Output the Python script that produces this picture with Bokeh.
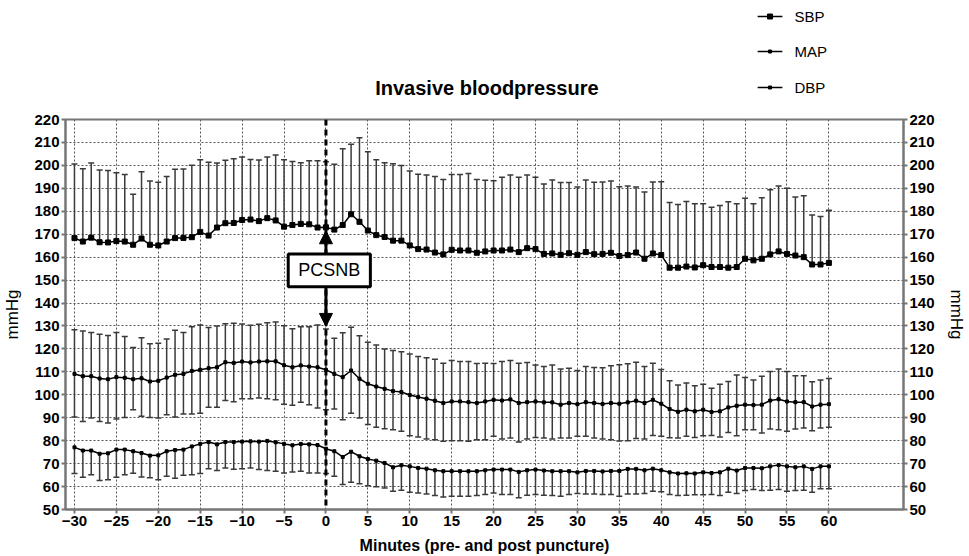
from bokeh.plotting import figure
from bokeh.layouts import column
from bokeh.models import (Range1d, LinearAxis, FixedTicker, Label,
                          BoxAnnotation, Arrow, NormalHead, Span)
from bokeh.core.properties import value
from bokeh.embed import file_html
from bokeh.resources import INLINE

minutes = list(range(-30, 61))

# SBP mean and mean+SD
sbp_mean = [168.3, 166.8, 168.5, 166.5, 166.4, 167.0, 166.8, 165.4, 168.1, 165.4,
            165.1, 166.8, 168.3, 168.4, 168.7, 171.0, 169.4, 172.9, 174.8, 174.9,
            176.2, 176.4, 175.7, 177.0, 176.0, 173.3, 174.0, 174.5, 174.3, 172.9,
            173.0,
            172.0, 174.0, 178.7, 175.4, 171.6, 169.6, 168.8, 167.2, 167.2, 165.1,
            163.5, 163.3, 162.0, 161.2, 163.2, 162.9, 162.9, 161.9, 162.5, 162.9,
            162.9, 163.3, 162.2, 163.9, 163.5, 161.4, 161.6, 161.0, 161.7, 161.0,
            162.2, 161.3, 161.4, 161.9, 160.5, 160.9, 162.0, 159.3, 161.6, 160.9,
            155.4, 155.4, 155.9, 155.5, 156.5, 155.7, 155.7, 155.4, 155.7, 159.3,
            158.6, 159.3, 161.2, 162.5, 161.4, 160.7, 160.0, 156.8, 156.8, 157.5]
sbp_upper = [200.6, 198.5, 201.0, 198.0, 197.8, 196.8, 196.0, 187.4, 197.2, 193.2,
             192.6, 195.2, 198.3, 198.4, 200.1, 202.5, 201.4, 201.0, 202.2, 202.9,
             203.6, 202.6, 202.3, 203.6, 204.5, 202.5, 201.7, 201.2, 202.0, 202.0,
             201.6,
             200.5, 207.3, 209.2, 212.0, 205.9, 202.5, 201.2, 200.7, 199.9, 197.5,
             196.1, 195.8, 195.1, 193.9, 196.0, 196.0, 196.5, 193.9, 193.5, 193.3,
             194.8, 195.8, 194.8, 195.8, 194.8, 191.9, 193.6, 192.5, 192.5, 190.6,
             193.6, 192.6, 192.8, 193.2, 190.7, 191.0, 190.6, 188.4, 192.8, 192.9,
             183.8, 183.0, 184.3, 183.3, 183.3, 181.7, 182.5, 184.1, 183.3, 185.7,
             183.3, 185.9, 189.4, 191.0, 190.0, 186.2, 186.8, 178.4, 177.7, 180.4]

# MAP mean, mean+SD, mean-SD
map_mean = [109.1, 108.1, 108.1, 107.1, 106.8, 107.7, 107.4, 106.8, 107.2, 105.8,
            106.1, 107.5, 108.7, 109.1, 110.4, 110.9, 111.6, 112.0, 114.2, 113.9,
            114.5, 114.1, 114.5, 114.6, 114.6, 112.9, 112.0, 112.8, 112.3, 112.0,
            110.9,
            109.1, 107.7, 110.6, 107.0, 104.8, 103.6, 102.6, 101.6, 101.2, 99.9,
            99.0, 98.3, 97.4, 96.4, 97.1, 97.1, 96.8, 96.4, 97.1, 97.8,
            97.5, 98.0, 96.4, 96.8, 97.1, 96.7, 96.7, 95.7, 96.4, 95.9,
            96.8, 96.4, 96.0, 96.4, 96.1, 96.7, 97.4, 96.4, 97.8, 96.1,
            93.8, 92.6, 93.5, 92.8, 93.5, 92.5, 92.8, 94.5, 95.2, 95.7,
            95.5, 95.7, 97.5, 98.1, 97.1, 96.8, 96.8, 94.9, 95.7, 95.9]
map_upper = [128.4, 127.8, 127.1, 126.4, 125.9, 127.1, 125.4, 120.6, 124.9, 122.2,
             122.5, 124.3, 128.1, 127.2, 129.7, 130.4, 129.3, 130.0, 131.0, 131.2,
             130.9, 130.3, 130.7, 131.4, 131.7, 130.1, 128.8, 129.7, 129.7, 130.4,
             128.7,
             124.6, 127.0, 129.4, 125.7, 122.9, 121.7, 120.0, 119.3, 118.8, 117.8,
             116.7, 116.2, 115.5, 113.8, 114.9, 114.5, 114.5, 113.6, 113.8, 113.6,
             114.5, 114.9, 113.8, 114.1, 113.0, 112.3, 113.0, 111.2, 111.6, 110.6,
             112.3, 111.9, 111.8, 112.7, 113.1, 113.5, 114.2, 112.3, 113.8, 111.0,
             106.1, 104.3, 105.1, 103.9, 104.6, 102.9, 104.6, 105.8, 108.6, 107.5,
             106.5, 108.1, 110.1, 111.2, 110.1, 108.3, 108.3, 105.7, 106.5, 107.1]
map_lower = [90.3, 88.4, 89.9, 88.4, 87.7, 89.4, 90.1, 93.5, 90.6, 90.1,
             89.9, 91.3, 90.3, 91.6, 91.6, 92.0, 94.6, 94.6, 97.5, 97.0,
             98.3, 98.3, 98.6, 98.3, 97.8, 95.9, 95.4, 96.8, 95.7, 94.2,
             93.5,
             93.8, 89.1, 92.0, 89.9, 87.0, 85.9, 85.2, 84.8, 84.1, 82.2,
             81.6, 80.7, 80.4, 79.7, 80.0, 80.0, 79.7, 80.4, 80.4, 81.9,
             80.7, 81.2, 79.4, 80.7, 81.4, 81.2, 80.7, 81.2, 81.2, 81.9,
             81.9, 81.2, 80.7, 80.4, 79.9, 80.0, 80.9, 80.7, 82.3, 81.9,
             81.3, 81.2, 81.9, 81.4, 82.2, 82.3, 81.6, 83.6, 82.2, 84.8,
             84.8, 83.3, 85.1, 84.8, 84.1, 85.1, 85.5, 84.3, 85.5, 85.9]

# DBP mean and mean-SD
dbp_mean = [77.1, 75.7, 75.7, 74.3, 74.5, 76.1, 76.1, 75.4, 74.6, 73.5,
            73.6, 75.4, 75.9, 76.1, 77.5, 78.6, 79.4, 78.4, 79.4, 79.4,
            79.6, 79.7, 79.6, 79.9, 79.3, 78.6, 78.0, 78.6, 78.4, 78.1,
            76.5,
            75.4, 72.9, 75.2, 73.2, 72.0, 71.3, 70.3, 68.4, 69.3, 68.8,
            68.1, 67.8, 67.1, 66.7, 66.7, 66.7, 66.7, 66.7, 67.1, 67.4,
            67.4, 67.4, 66.4, 67.1, 67.4, 67.0, 66.7, 66.7, 66.7, 66.2,
            66.8, 66.8, 66.6, 66.8, 66.8, 67.7, 67.7, 67.1, 67.8, 67.1,
            66.2, 65.7, 65.8, 65.7, 66.2, 65.9, 66.2, 67.8, 67.0, 68.1,
            68.1, 68.0, 68.8, 69.4, 68.8, 68.4, 68.8, 67.7, 68.8, 68.8]
dbp_lower = [65.7, 64.1, 65.2, 62.6, 63.0, 64.1, 65.2, 65.8, 64.2, 63.8,
             63.0, 64.5, 63.6, 64.9, 65.1, 65.7, 67.8, 67.0, 68.1, 67.5,
             67.8, 68.1, 67.4, 67.0, 66.7, 65.9, 66.4, 66.7, 65.9, 65.9,
             65.7,
             64.5, 60.9, 61.9, 61.2, 60.4, 59.9, 59.4, 58.0, 58.4, 57.5,
             57.2, 56.8, 56.1, 55.5, 55.8, 55.8, 55.8, 56.1, 56.5, 57.2,
             56.5, 56.5, 55.1, 56.2, 56.5, 56.2, 56.1, 55.8, 56.5, 57.0,
             56.8, 56.8, 56.5, 56.5, 55.8, 56.8, 56.8, 57.0, 58.0, 57.7,
             56.5, 56.1, 56.2, 56.4, 56.4, 56.5, 56.1, 57.5, 57.0, 58.3,
             58.7, 58.3, 58.4, 58.7, 58.0, 58.3, 58.4, 57.5, 59.0, 59.0]

x_ticks = list(range(-30, 61, 5))
y_ticks = list(range(50, 221, 10))
series_names = ["SBP", "MAP", "DBP"]
title_text = "Invasive bloodpressure"

FONT = "Liberation Sans"
BAR = "#3a3a3a"
GRID = "#555555"
AXIS = "#777777"
TOP_H = 109

x_range = Range1d(-31.07, 68.9)

# ---------- header strip (title + legend); frame aligns with the chart below ----------
top = figure(width=969, height=TOP_H, output_backend="svg", toolbar_location=None,
             x_range=x_range, y_range=Range1d(TOP_H, 0),
             x_axis_type=None, y_axis_type=None,
             min_border=0, min_border_left=64, min_border_right=66,
             min_border_top=0, min_border_bottom=0)
top.outline_line_color = None
top.xgrid.visible = False
top.ygrid.visible = False
top.background_fill_color = "white"
top.border_fill_color = "white"

# legend key geometry (x in minutes of the shared axis, y in header pixels)
LEG_X0, LEG_X1, LEG_TX = 51.5, 54.45, 55.9
LEG_ROWS = [16, 51, 87]
LEG_MARK = [5, 3, 3]
for name, ry, ms in zip(series_names, LEG_ROWS, LEG_MARK):
    top.line([LEG_X0, LEG_X1], [ry, ry], line_color="black", line_width=1.5)
    top.scatter([(LEG_X0 + LEG_X1) / 2], [ry], marker="square", size=ms, color="black")
    top.text([LEG_TX], [ry], text=[name], text_align="left", text_baseline="middle",
             text_font=value(FONT), text_font_size="15px", text_color="black")

top.add_layout(Label(x=19.2, y=87, text=title_text, text_align="center",
                     text_baseline="middle", text_font=FONT, text_font_style="bold",
                     text_font_size="20px", text_color="black"))

# ---------- main chart ----------
p = figure(width=969, height=556 - TOP_H, output_backend="svg", toolbar_location=None,
           x_range=x_range, y_range=Range1d(50, 220),
           min_border_left=64, min_border_right=66, min_border_top=119 - TOP_H,
           min_border_bottom=46)
p.background_fill_color = "white"
p.border_fill_color = "white"
p.outline_line_color = AXIS
p.outline_line_width = 2

p.xaxis.ticker = FixedTicker(ticks=x_ticks)
p.yaxis.ticker = FixedTicker(ticks=y_ticks)
p.xgrid.ticker = FixedTicker(ticks=x_ticks)
p.ygrid.ticker = FixedTicker(ticks=y_ticks)
for g in (p.xgrid, p.ygrid):
    g.grid_line_color = GRID
    g.grid_line_dash = "2 2"
    g.grid_line_width = 1

yr = LinearAxis(ticker=FixedTicker(ticks=y_ticks))
p.add_layout(yr, "right")

p.xaxis.axis_label = "Minutes (pre- and post puncture)"
p.yaxis.axis_label = "mmHg"
yr.axis_label = "mmHg"

for ax in list(p.xaxis) + list(p.yaxis):
    ax.axis_line_color = AXIS
    ax.axis_line_width = 2
    ax.major_tick_line_color = AXIS
    ax.major_tick_line_width = 2
    ax.major_tick_out = 4
    ax.major_tick_in = 0
    ax.minor_tick_line_color = None
    ax.major_label_text_font = FONT
    ax.major_label_text_font_style = "bold"
    ax.major_label_text_font_size = "15px"
    ax.major_label_text_color = "black"
    ax.major_label_standoff = 2
    ax.axis_label_text_font = FONT
    ax.axis_label_text_color = "black"

p.xaxis.axis_label_text_font_style = "bold"
p.xaxis.axis_label_text_font_size = "16px"
p.xaxis.axis_label_standoff = 8
for ax in p.yaxis:
    ax.axis_label_text_font_style = "normal"
    ax.axis_label_text_font_size = "17px"
    ax.axis_label_standoff = 9

# error bars
p.segment(x0=minutes, y0=sbp_mean, x1=minutes, y1=sbp_upper, line_color=BAR, line_width=1.5)
p.scatter(minutes, sbp_upper, marker="dash", size=6, line_color=BAR, line_width=1.5)
p.segment(x0=minutes, y0=map_lower, x1=minutes, y1=map_upper, line_color=BAR, line_width=1.5)
p.scatter(minutes, map_upper, marker="dash", size=6, line_color=BAR, line_width=1.5)
p.scatter(minutes, map_lower, marker="dash", size=6, line_color=BAR, line_width=1.5)
p.segment(x0=minutes, y0=dbp_lower, x1=minutes, y1=dbp_mean, line_color=BAR, line_width=1.5)
p.scatter(minutes, dbp_lower, marker="dash", size=6, line_color=BAR, line_width=1.5)

# mean lines
p.line(minutes, sbp_mean, line_color="black", line_width=1.5)
p.scatter(minutes, sbp_mean, marker="square", size=5, color="black")
p.line(minutes, map_mean, line_color="black", line_width=1.5)
p.scatter(minutes, map_mean, marker="square", size=3, color="black")
p.line(minutes, dbp_mean, line_color="black", line_width=1.5)
p.scatter(minutes, dbp_mean, marker="square", size=3, color="black")

# puncture annotation
p.add_layout(Span(location=0, dimension="height", line_color="black",
                  line_width=3, line_dash="6 4"))
p.add_layout(BoxAnnotation(left=-4.5, right=5.3, bottom=147.1, top=161.4,
                           fill_color="white", fill_alpha=1.0,
                           line_color="black", line_alpha=1.0, line_width=3))
p.add_layout(Label(x=0.4, y=154.2, text="PCSNB", text_align="center",
                   text_baseline="middle", text_font=FONT, text_font_size="18px",
                   text_color="black"))
p.add_layout(Arrow(end=NormalHead(size=13, fill_color="black", line_color="black"),
                   x_start=0, y_start=161.4, x_end=0, y_end=171.5,
                   line_color="black", line_width=3))
p.add_layout(Arrow(end=NormalHead(size=13, fill_color="black", line_color="black"),
                   x_start=0, y_start=147.1, x_end=0, y_end=129.8,
                   line_color="black", line_width=3))

layout = column(top, p, spacing=0)
open("out.html", "w").write(file_html(layout, INLINE))
